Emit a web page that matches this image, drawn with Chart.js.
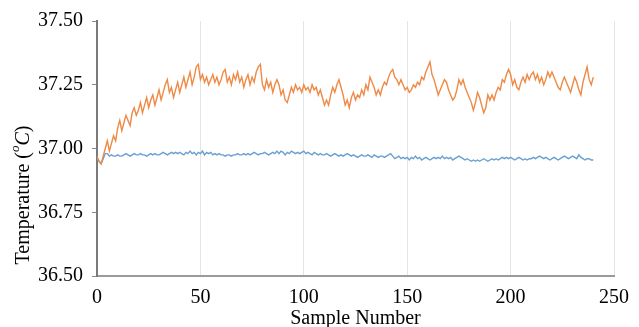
<!DOCTYPE html>
<html>
<head>
<meta charset="utf-8">
<script src="https://cdn.jsdelivr.net/npm/chart.js@4/dist/chart.umd.min.js"></script>
<style>
  html, body { margin: 0; padding: 0; background: #fff; }
  #wrap { width: 639px; height: 327px; }
</style>
</head>
<body>
<div id="wrap"><canvas id="tempChart" width="639" height="327"></canvas></div>
<script>
// sample readings, index = sample number
const orangeTemps = [
  36.97, 36.95, 36.94, 36.97, 37.00, 37.03, 36.99, 37.02, 37.05, 37.03,
  37.08, 37.11, 37.07, 37.10, 37.13, 37.11, 37.09, 37.14, 37.16, 37.13,
  37.15, 37.18, 37.14, 37.17, 37.20, 37.16, 37.19, 37.21, 37.17, 37.20,
  37.23, 37.19, 37.22, 37.25, 37.27, 37.22, 37.24, 37.20, 37.23, 37.26,
  37.22, 37.25, 37.28, 37.24, 37.27, 37.30, 37.25, 37.28, 37.32, 37.33,
  37.27, 37.29, 37.26, 37.28, 37.25, 37.27, 37.29, 37.26, 37.28, 37.25,
  37.27, 37.30, 37.31, 37.26, 37.28, 37.25, 37.29, 37.27, 37.30, 37.26,
  37.28, 37.24, 37.27, 37.29, 37.25, 37.28, 37.26, 37.30, 37.32, 37.33,
  37.25, 37.23, 37.27, 37.24, 37.26, 37.22, 37.25, 37.27, 37.25, 37.21,
  37.23, 37.19, 37.18, 37.21, 37.24, 37.22, 37.25, 37.23, 37.24, 37.22,
  37.25, 37.23, 37.24, 37.22, 37.25, 37.23, 37.24, 37.21, 37.23, 37.20,
  37.17, 37.19, 37.17, 37.21, 37.24, 37.22, 37.25, 37.27, 37.24, 37.21,
  37.17, 37.19, 37.16, 37.20, 37.22, 37.19, 37.21, 37.20, 37.23, 37.21,
  37.25, 37.23, 37.28, 37.26, 37.24, 37.21, 37.23, 37.21, 37.24, 37.26,
  37.25, 37.28, 37.30, 37.31, 37.28, 37.27, 37.25, 37.27, 37.25, 37.23,
  37.24, 37.22, 37.23, 37.25, 37.24, 37.26, 37.25, 37.28, 37.27, 37.30,
  37.32, 37.34, 37.29, 37.27, 37.24, 37.21, 37.23, 37.25, 37.27, 37.26,
  37.23, 37.21, 37.19, 37.20, 37.23, 37.27, 37.25, 37.27, 37.24, 37.22,
  37.20, 37.18, 37.15, 37.18, 37.22, 37.20, 37.17, 37.14, 37.16, 37.21,
  37.19, 37.21, 37.19, 37.22, 37.24, 37.23, 37.27, 37.26, 37.29, 37.31,
  37.29, 37.25, 37.27, 37.24, 37.23, 37.26, 37.28, 37.26, 37.29, 37.27,
  37.29, 37.30, 37.27, 37.29, 37.26, 37.28, 37.25, 37.27, 37.30, 37.28,
  37.30, 37.28, 37.26, 37.24, 37.23, 37.26, 37.28, 37.26, 37.24, 37.22,
  37.25, 37.28, 37.26, 37.23, 37.21, 37.26, 37.29, 37.32, 37.27, 37.25,
  37.28
];

const blueTemps = [
  36.96, 36.95, 36.94, 36.96, 36.98, 36.98, 36.97, 36.975, 36.97, 36.97,
  36.975, 36.97, 36.97, 36.975, 36.98, 36.975, 36.97, 36.975, 36.98, 36.975,
  36.975, 36.98, 36.975, 36.975, 36.97, 36.975, 36.98, 36.975, 36.98, 36.975,
  36.975, 36.98, 36.985, 36.98, 36.975, 36.98, 36.985, 36.98, 36.985, 36.98,
  36.985, 36.98, 36.975, 36.985, 36.98, 36.99, 36.98, 36.985, 36.975, 36.985,
  36.98, 36.99, 36.975, 36.985, 36.98, 36.985, 36.975, 36.98, 36.975, 36.98,
  36.975, 36.975, 36.97, 36.975, 36.975, 36.97, 36.975, 36.975, 36.98, 36.975,
  36.975, 36.98, 36.975, 36.98, 36.975, 36.98, 36.985, 36.98, 36.975, 36.98,
  36.98, 36.985, 36.98, 36.975, 36.98, 36.985, 36.98, 36.99, 36.98, 36.99,
  36.985, 36.975, 36.985, 36.98, 36.99, 36.985, 36.98, 36.985, 36.98, 36.985,
  36.99, 36.98, 36.985, 36.98, 36.975, 36.985, 36.98, 36.975, 36.98, 36.975,
  36.975, 36.98, 36.975, 36.97, 36.975, 36.98, 36.975, 36.97, 36.975, 36.97,
  36.975, 36.98, 36.975, 36.97, 36.975, 36.97, 36.965, 36.97, 36.975, 36.97,
  36.97, 36.975, 36.97, 36.965, 36.975, 36.97, 36.965, 36.97, 36.97, 36.965,
  36.97, 36.975, 36.98, 36.97, 36.96, 36.965, 36.97, 36.96, 36.965, 36.96,
  36.965, 36.955, 36.965, 36.96, 36.97, 36.96, 36.965, 36.955, 36.96, 36.965,
  36.96, 36.955, 36.96, 36.965, 36.96, 36.965, 36.96, 36.97, 36.96, 36.965,
  36.96, 36.965, 36.955, 36.96, 36.965, 36.97, 36.965, 36.96, 36.955, 36.96,
  36.955, 36.95, 36.955, 36.95, 36.955, 36.95, 36.955, 36.96, 36.955, 36.95,
  36.955, 36.96, 36.955, 36.96, 36.955, 36.96, 36.965, 36.96, 36.965, 36.96,
  36.965, 36.96, 36.955, 36.96, 36.965, 36.96, 36.955, 36.96, 36.955, 36.96,
  36.96, 36.965, 36.96, 36.965, 36.97, 36.965, 36.96, 36.965, 36.96, 36.955,
  36.96, 36.965, 36.96, 36.955, 36.96, 36.965, 36.97, 36.965, 36.96, 36.965,
  36.97, 36.965, 36.96, 36.975, 36.965, 36.96, 36.955, 36.96, 36.96, 36.955,
  36.955
];

const xTicks = [0, 50, 100, 150, 200, 250];
const yTicks = [36.5, 36.75, 37.0, 37.25, 37.5];

const serif = "'Liberation Serif', 'Times New Roman', serif";

function toPoints(arr) {
  return arr.map((v, i) => ({x: i, y: v}));
}

// y title with superscript o and italic C
const yTitlePlugin = {
  id: "yTitle",
  afterDraw(chart) {
    const ctx = chart.ctx;
    const parts = [
      {t: "Temperature (", f: "20px " + serif, dy: 0},
      {t: "o", f: "italic 13px " + serif, dy: -8},
      {t: "C", f: "italic 20px " + serif, dy: 0},
      {t: ")", f: "20px " + serif, dy: 0}
    ];
    ctx.save();
    let total = 0;
    parts.forEach(p => { ctx.font = p.f; p.w = ctx.measureText(p.t).width; total += p.w; });
    ctx.translate(23, 195);
    ctx.rotate(-Math.PI / 2);
    ctx.fillStyle = "#000";
    ctx.textBaseline = "middle";
    ctx.textAlign = "left";
    let x = -total / 2;
    parts.forEach(p => {
      ctx.font = p.f;
      ctx.fillText(p.t, x, p.dy + 1);
      x += p.w;
    });
    ctx.restore();
  }
};

const ctx = document.getElementById("tempChart");
new Chart(ctx, {
  type: "line",
  data: {
    datasets: [{
      label: "Orange",
      data: toPoints(orangeTemps),
      borderColor: "#EE8A45",
      borderWidth: 1.4,
      pointRadius: 0,
      tension: 0
    }, {
      label: "Blue",
      data: toPoints(blueTemps),
      borderColor: "#6A9FD2",
      borderWidth: 1.4,
      pointRadius: 0,
      tension: 0
    }]
  },
  options: {
    responsive: false,
    animation: false,
    layout: {padding: {top: 18, right: 13, left: 0, bottom: 0}},
    plugins: {legend: {display: false}, tooltip: {enabled: false}},
    scales: {
      x: {
        type: "linear",
        min: 0,
        max: 250,
        afterBuildTicks(scale) { scale.ticks = xTicks.map(v => ({value: v})); },
        afterFit(scale) { scale.height = 51; },
        grid: {color: "#e4e4e4", drawTicks: false, lineWidth: 1},
        border: {color: "#9a9a9a", width: 2},
        ticks: {color: "#000", font: {family: serif, size: 20}, padding: 10, maxRotation: 0},
        title: {display: true, text: "Sample Number", color: "#000", font: {family: serif, size: 20}, padding: {top: -5, bottom: -4}}
      },
      y: {
        min: 36.5,
        max: 37.5,
        afterBuildTicks(scale) { scale.ticks = yTicks.map(v => ({value: v})); },
        afterFit(scale) { scale.width = 97; },
        grid: {drawOnChartArea: false, tickLength: 5, color: "#8a8a8a"},
        border: {color: "#7a7a7a", width: 2},
        ticks: {
          color: "#000",
          font: {family: serif, size: 20},
          padding: 9,
          callback: v => v.toFixed(2)
        }
      }
    }
  },
  plugins: [yTitlePlugin]
});
</script>
</body>
</html>
